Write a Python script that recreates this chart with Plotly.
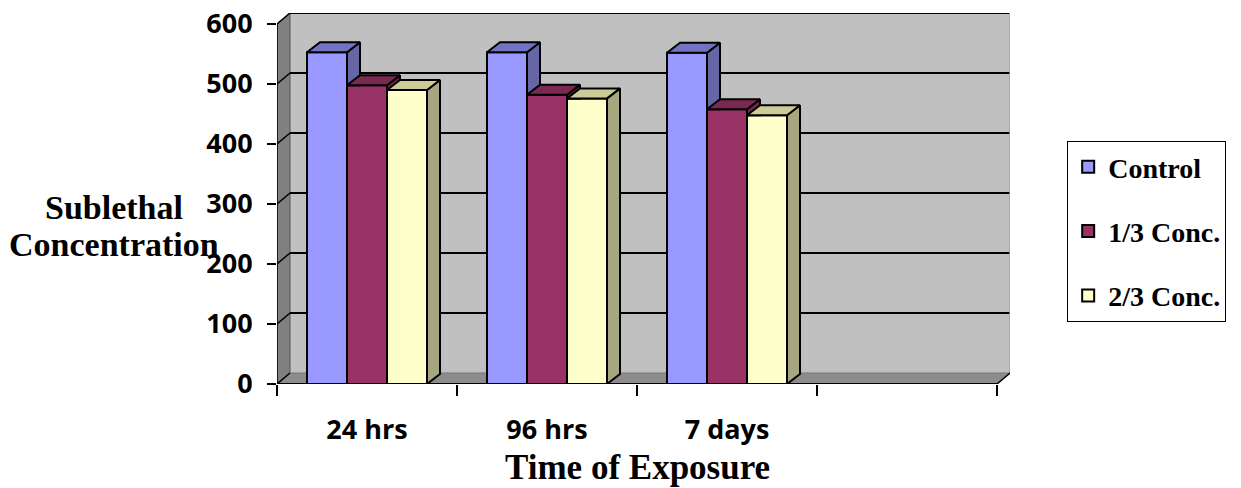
import plotly.graph_objects as go

# ---------------- data ----------------
categories = ["24 hrs", "96 hrs", "7 days", ""]
series_names = ["Control", "1/3 Conc.", "2/3 Conc."]
control = [553, 553, 552]
conc_1_3 = [498, 482, 458]
conc_2_3 = [490, 476, 448]
y_ticks = [0, 100, 200, 300, 400, 500, 600]

series_values = [control, conc_1_3, conc_2_3]

# ---------------- style ----------------
front_colors = ["#9999FF", "#993366", "#FFFFCC"]
top_colors = ["#7373C4", "#7A2952", "#CCCC99"]
side_colors = ["#6666A6", "#732648", "#A6A680"]

BAR_W = 2.0 / 9.0
OFFSETS = [-1.0 / 3.0, -1.0 / 9.0, 1.0 / 9.0]
DX = 13.0 / 180.0      # depth (x, data units)
DY = 10.0 / 0.6        # depth (y, data units) for bars
DXW = 13.0 / 180.0     # wall depth x
DYW = 11.0 / 0.6       # wall depth y
Y_MAX = y_ticks[-1]

x_left = -0.5
x_right = len(categories) - 0.5

fig = go.Figure()

# front faces of bars (real bar traces)
cat_pos = list(range(len(series_values[0])))
for i, (name, vals) in enumerate(zip(series_names, series_values)):
    fig.add_trace(go.Bar(
        x=cat_pos, y=vals, width=BAR_W, offset=OFFSETS[i],
        name=name, legendgroup=name,
        marker=dict(color=front_colors[i], line=dict(color="black", width=2)),
        hoverinfo="skip",
    ))

# side faces (clipped where the next bar's front hides them)
for i, vals in enumerate(series_values):
    xs, ys = [], []
    for c, v in enumerate(vals):
        x1 = c + OFFSETS[i] + BAR_W
        lo = series_values[i + 1][c] if i + 1 < len(series_values) else 0
        if lo >= v:
            continue
        bottom_right = lo + DY if lo == 0 else lo
        xs += [x1, x1, x1 + DX, x1 + DX, x1, None]
        ys += [lo, v, v + DY, bottom_right, lo, None]
    fig.add_trace(go.Scatter(x=xs, y=ys, mode="lines", fill="toself",
                             fillcolor=side_colors[i],
                             line=dict(color="black", width=2),
                             showlegend=False, hoverinfo="skip"))

# top faces
for i, vals in enumerate(series_values):
    xs, ys = [], []
    for c, v in enumerate(vals):
        x0 = c + OFFSETS[i]
        x1 = x0 + BAR_W
        xs += [x0, x0 + DX, x1 + DX, x1, x0, None]
        ys += [v, v + DY, v + DY, v, v, None]
    fig.add_trace(go.Scatter(x=xs, y=ys, mode="lines", fill="toself",
                             fillcolor=top_colors[i],
                             line=dict(color="black", width=2),
                             showlegend=False, hoverinfo="skip"))

# ---------------- walls & grid (shapes below traces) ----------------
shapes = []
shapes.append(dict(type="rect", xref="x", yref="y", layer="below",
                   x0=x_left + DXW, x1=x_right + DXW, y0=DYW, y1=Y_MAX + DYW,
                   fillcolor="#C0C0C0", line=dict(width=0)))
shapes.append(dict(type="path", xref="x", yref="y", layer="below",
                   path=f"M{x_left},{0} L{x_left},{Y_MAX} L{x_left + DXW},{Y_MAX + DYW} L{x_left + DXW},{DYW} Z",
                   fillcolor="#808080", line=dict(color="#555555", width=1)))
shapes.append(dict(type="path", xref="x", yref="y", layer="below",
                   path=f"M{x_left},{0} L{x_right},{0} L{x_right + DXW},{DYW} L{x_left + DXW},{DYW} Z",
                   fillcolor="#8C8C8C", line=dict(color="#777777", width=1)))
for t in y_ticks:
    if t > 0:
        shapes.append(dict(type="line", xref="x", yref="y", layer="below",
                           x0=x_left + DXW, x1=x_right + DXW, y0=t + DYW, y1=t + DYW,
                           line=dict(color="black", width=2)))
    shapes.append(dict(type="line", xref="x", yref="y", layer="below",
                       x0=x_left, x1=x_left + DXW, y0=t, y1=t + DYW,
                       line=dict(color="black", width=1.5)))
shapes.append(dict(type="line", xref="x", yref="y", layer="below",
                   x0=x_right + DXW, x1=x_right + DXW, y0=DYW, y1=Y_MAX + DYW,
                   line=dict(color="#A0A0A0", width=1.5)))
shapes.append(dict(type="line", xref="x", yref="y", layer="below",
                   x0=x_right, x1=x_right + DXW, y0=0, y1=DYW,
                   line=dict(color="black", width=1.5)))
shapes.append(dict(type="line", xref="x", yref="y", layer="below",
                   x0=x_left, x1=x_left, y0=0, y1=Y_MAX,
                   line=dict(color="black", width=1.5)))
shapes.append(dict(type="line", xref="x", yref="y", layer="below",
                   x0=x_left, x1=x_right, y0=0, y1=0,
                   line=dict(color="black", width=2)))

tick_font = dict(family="Open Sans", size=27, color="black", weight="bold")
title_font = dict(family="Liberation Serif", size=34, color="black", weight="bold")

fig.update_layout(
    width=1233, height=480,
    margin=dict(l=269, r=231, t=5, b=104, autoexpand=False),
    paper_bgcolor="white", plot_bgcolor="white",
    barmode="overlay",
    shapes=shapes,
    showlegend=True,
    legend=dict(x=1.078, xanchor="left", y=0.655, yanchor="top",
                bordercolor="black", borderwidth=1, bgcolor="white",
                font=dict(family="Liberation Serif", size=28, color="black", weight="bold"),
                tracegroupgap=25, traceorder="grouped"),
    xaxis=dict(range=[x_left, x_right + DXW], showgrid=False, zeroline=False,
               showline=False, tickmode="array",
               tickvals=list(range(len(categories))), ticktext=categories,
               ticks="", tickfont=tick_font, ticklabelstandoff=27,
               ticklabeloverflow="allow",
               minor=dict(tickmode="array",
                          tickvals=[k - 0.5 for k in range(len(categories) + 1)],
                          ticks="outside", ticklen=11, tickcolor="black", tickwidth=1.5,
                          showgrid=False),
               fixedrange=True),
    yaxis=dict(range=[0, Y_MAX + DYW], showgrid=False, zeroline=False,
               showline=False, tickmode="array", tickvals=y_ticks,
               ticks="outside", ticklen=9, tickcolor="black", tickwidth=1.5,
               tickfont=tick_font, ticklabelstandoff=9,
               ticklabeloverflow="allow", fixedrange=True),
    annotations=[
        dict(text="Sublethal", xref="paper", yref="paper",
             x=-0.2227, y=0.4744, xanchor="center", yanchor="middle",
             showarrow=False, font=title_font),
        dict(text="Concentration", xref="paper", yref="paper",
             x=-0.2227, y=0.3747, xanchor="center", yanchor="middle",
             showarrow=False, font=title_font),
        dict(text="Time of Exposure", xref="x", yref="paper",
             x=1.5, y=-0.2264, xanchor="center", yanchor="middle",
             showarrow=False,
             font=dict(family="Liberation Serif", size=35, color="black", weight="bold")),
    ],
)

fig.write_html("out.html")
